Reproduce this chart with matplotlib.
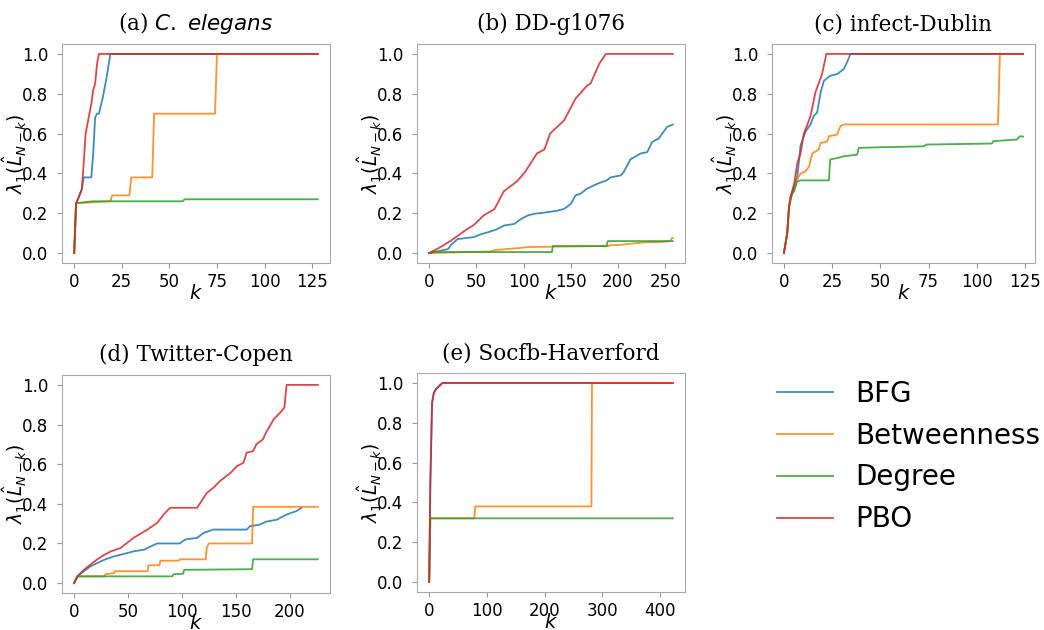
import matplotlib
matplotlib.use("Agg")
import matplotlib.pyplot as plt

# (a) C. elegans
a_bfg_x = [0, 1, 4, 5, 9, 10, 11, 12, 13, 15, 17, 19, 128]
a_bfg_y = [0, 0.25, 0.32, 0.38, 0.38, 0.50, 0.68, 0.70, 0.70, 0.78, 0.88, 1.0, 1.0]
a_bet_x = [0, 1, 19, 20, 29, 30, 41, 42, 74, 75, 128]
a_bet_y = [0, 0.25, 0.26, 0.29, 0.29, 0.38, 0.38, 0.70, 0.70, 1.0, 1.0]
a_deg_x = [0, 1, 5, 10, 57, 58, 128]
a_deg_y = [0, 0.25, 0.255, 0.26, 0.26, 0.27, 0.27]
a_pbo_x = [0, 1, 2, 4, 5, 6, 7, 9, 10, 11, 12, 13, 128]
a_pbo_y = [0, 0.25, 0.27, 0.32, 0.45, 0.60, 0.65, 0.75, 0.82, 0.85, 0.95, 1.0, 1.0]

# (b) DD-g1076
b_bfg_x = [0, 10, 20, 23, 30, 47, 55, 62, 72, 79, 90, 97, 104, 111, 125, 136, 143, 150, 155,
           160, 167, 178, 188, 192, 203, 206, 213, 224, 231, 236, 243, 252, 258]
b_bfg_y = [0, 0.01, 0.02, 0.04, 0.07, 0.08, 0.095, 0.104, 0.12, 0.138, 0.146, 0.17, 0.188, 0.197,
           0.205, 0.213, 0.222, 0.247, 0.29, 0.297, 0.323, 0.348, 0.365, 0.38, 0.39, 0.407, 0.47,
           0.50, 0.507, 0.558, 0.575, 0.634, 0.645]
b_bet_x = [0, 25, 65, 70, 95, 105, 130, 190, 192, 200, 210, 220, 232, 245, 255, 257, 258]
b_bet_y = [0, 0.003, 0.008, 0.015, 0.025, 0.03, 0.032, 0.035, 0.04, 0.04, 0.045, 0.05, 0.055,
           0.055, 0.06, 0.075, 0.075]
b_deg_x = [0, 5, 130, 131, 188, 189, 258]
b_deg_y = [0, 0.005, 0.005, 0.035, 0.035, 0.06, 0.06]
b_pbo_x = [0, 12, 23, 40, 47, 58, 69, 79, 93, 102, 106, 114, 122, 128, 143, 155, 167, 171, 180,
           187, 258]
b_pbo_y = [0, 0.03, 0.062, 0.12, 0.14, 0.19, 0.22, 0.31, 0.36, 0.41, 0.44, 0.50, 0.52, 0.60,
           0.667, 0.776, 0.84, 0.852, 0.95, 1.0, 1.0]

# (c) infect-Dublin
c_bfg_x = [0, 1.7, 2.6, 3.4, 5.2, 6.9, 8.6, 11.2, 13.8, 15.5, 17.2, 19, 20.7, 24, 27.6, 31,
           32.8, 34.5, 124]
c_bfg_y = [0, 0.1, 0.23, 0.28, 0.34, 0.38, 0.54, 0.61, 0.646, 0.69, 0.705, 0.806, 0.865, 0.89,
           0.899, 0.924, 0.96, 1.0, 1.0]
c_bet_x = [0, 1.7, 2.6, 3.4, 5.2, 6.9, 8.6, 11.2, 13, 14.7, 18, 19, 22.4, 23.3, 27.6, 29.3, 31,
           40, 111, 112, 124]
c_bet_y = [0, 0.1, 0.23, 0.28, 0.32, 0.37, 0.40, 0.41, 0.435, 0.50, 0.52, 0.553, 0.56, 0.587,
           0.595, 0.637, 0.646, 0.646, 0.646, 1.0, 1.0]
c_deg_x = [0, 1.7, 2.6, 4.3, 5.2, 6.9, 8.6, 23.3, 24, 27.6, 31, 38, 38.8, 48, 72.4, 74, 107.8,
           108.6, 120.7, 122.4, 124]
c_deg_y = [0, 0.1, 0.23, 0.30, 0.309, 0.36, 0.365, 0.365, 0.47, 0.477, 0.486, 0.494, 0.528,
           0.531, 0.536, 0.545, 0.55, 0.562, 0.57, 0.587, 0.585]
c_pbo_x = [0, 1.7, 2.6, 3.4, 5.2, 6.9, 8.6, 10.3, 12, 13.8, 16.4, 19.8, 22, 124]
c_pbo_y = [0, 0.1, 0.23, 0.28, 0.34, 0.45, 0.50, 0.60, 0.64, 0.69, 0.81, 0.90, 1.0, 1.0]

# (d) Twitter-Copen
d_bfg_x = [0, 3, 9, 15, 21, 28, 37, 46, 55, 65, 71, 77, 98, 103, 114, 120, 129, 160, 163, 172,
           178, 188, 197, 206, 211]
d_bfg_y = [0, 0.034, 0.06, 0.084, 0.10, 0.118, 0.135, 0.147, 0.16, 0.169, 0.185, 0.20, 0.20,
           0.22, 0.228, 0.253, 0.27, 0.27, 0.287, 0.295, 0.31, 0.32, 0.346, 0.363, 0.38]
d_bet_x = [0, 3, 28, 29, 37, 38, 68, 69, 79, 80, 97, 98, 122, 123, 125, 165, 166, 226]
d_bet_y = [0, 0.034, 0.034, 0.045, 0.05, 0.06, 0.06, 0.09, 0.09, 0.113, 0.113, 0.12, 0.12,
           0.18, 0.20, 0.20, 0.385, 0.385]
d_deg_x = [0, 3, 91, 92, 101, 102, 165, 166, 226]
d_deg_y = [0, 0.034, 0.034, 0.045, 0.047, 0.067, 0.07, 0.12, 0.12]
d_pbo_x = [0, 3, 9, 15, 21, 28, 34, 43, 55, 68, 77, 83, 89, 114, 123, 129, 135, 145, 151, 157,
           160, 166, 169, 175, 178, 185, 191, 195, 197, 226]
d_pbo_y = [0, 0.034, 0.067, 0.093, 0.118, 0.143, 0.16, 0.177, 0.228, 0.27, 0.304, 0.346, 0.38,
           0.38, 0.455, 0.48, 0.514, 0.556, 0.59, 0.607, 0.658, 0.666, 0.70, 0.725, 0.76, 0.826,
           0.86, 0.885, 1.0, 1.0]

# (e) Socfb-Haverford
e_bfg_x = [0, 2, 5, 8, 12, 23, 422]
e_bfg_y = [0, 0.5, 0.9, 0.95, 0.97, 1.0, 1.0]
e_bet_x = [0, 2, 78, 80, 281, 282, 422]
e_bet_y = [0, 0.32, 0.32, 0.38, 0.38, 1.0, 1.0]
e_deg_x = [0, 2, 422]
e_deg_y = [0, 0.32, 0.32]
e_pbo_x = [0, 2, 5, 8, 12, 23, 422]
e_pbo_y = [0, 0.5, 0.9, 0.95, 0.97, 1.0, 1.0]

labels = ["BFG", "Betweenness", "Degree", "PBO"]
colors = ["tab:blue", "tab:orange", "tab:green", "tab:red"]

panels = [
    ("(a) $\\it{C.\\ elegans}$", [(a_bfg_x, a_bfg_y), (a_bet_x, a_bet_y), (a_deg_x, a_deg_y), (a_pbo_x, a_pbo_y)], [0, 25, 50, 75, 100, 125]),
    ("(b) DD-g1076", [(b_bfg_x, b_bfg_y), (b_bet_x, b_bet_y), (b_deg_x, b_deg_y), (b_pbo_x, b_pbo_y)], [0, 50, 100, 150, 200, 250]),
    ("(c) infect-Dublin", [(c_bfg_x, c_bfg_y), (c_bet_x, c_bet_y), (c_deg_x, c_deg_y), (c_pbo_x, c_pbo_y)], [0, 25, 50, 75, 100, 125]),
    ("(d) Twitter-Copen", [(d_bfg_x, d_bfg_y), (d_bet_x, d_bet_y), (d_deg_x, d_deg_y), (d_pbo_x, d_pbo_y)], [0, 50, 100, 150, 200]),
    ("(e) Socfb-Haverford", [(e_bfg_x, e_bfg_y), (e_bet_x, e_bet_y), (e_deg_x, e_deg_y), (e_pbo_x, e_pbo_y)], [0, 100, 200, 300, 400]),
]

# axes boxes in pixels: left, top, right, bottom
W, H = 1044, 630
boxes = [(62, 44, 330, 263), (417, 44, 685, 263), (772, 44, 1035, 263),
         (62, 375, 330, 593), (417, 373, 685, 592)]

fig = plt.figure(figsize=(10.44, 6.3), dpi=100)
handles = []
for (title, series, xticks), (l, t, r, b) in zip(panels, boxes):
    ax = fig.add_axes([l / W, 1 - b / H, (r - l) / W, (b - t) / H])
    hs = []
    for (x, y), c, lab in zip(series, colors, labels):
        h, = ax.plot(x, y, color=c, lw=1.3, alpha=0.85, label=lab)
        hs.append(h)
    handles = hs
    ax.set_title(title, family="DejaVu Serif", fontsize=15.5, pad=10)
    ax.set_xlabel("$k$", fontsize=14, labelpad=-5)
    ax.set_ylabel("$\\lambda_1(\\hat{L}_{N-k})$", fontsize=13.5, labelpad=-5)
    ax.set_xticks(xticks)
    ax.set_yticks([0, 0.2, 0.4, 0.6, 0.8, 1.0])
    ax.tick_params(labelsize=12, color="#999999")
    ax.tick_params(axis="y", pad=6.5)
    for s in ax.spines.values():
        s.set_color("#aaaaaa")

fig.legend(handles, labels, loc="center left", bbox_to_anchor=(766 / W, 1 - 456.5 / H),
           frameon=False, fontsize=20, borderaxespad=0)

fig.savefig("out.png", dpi=100)
